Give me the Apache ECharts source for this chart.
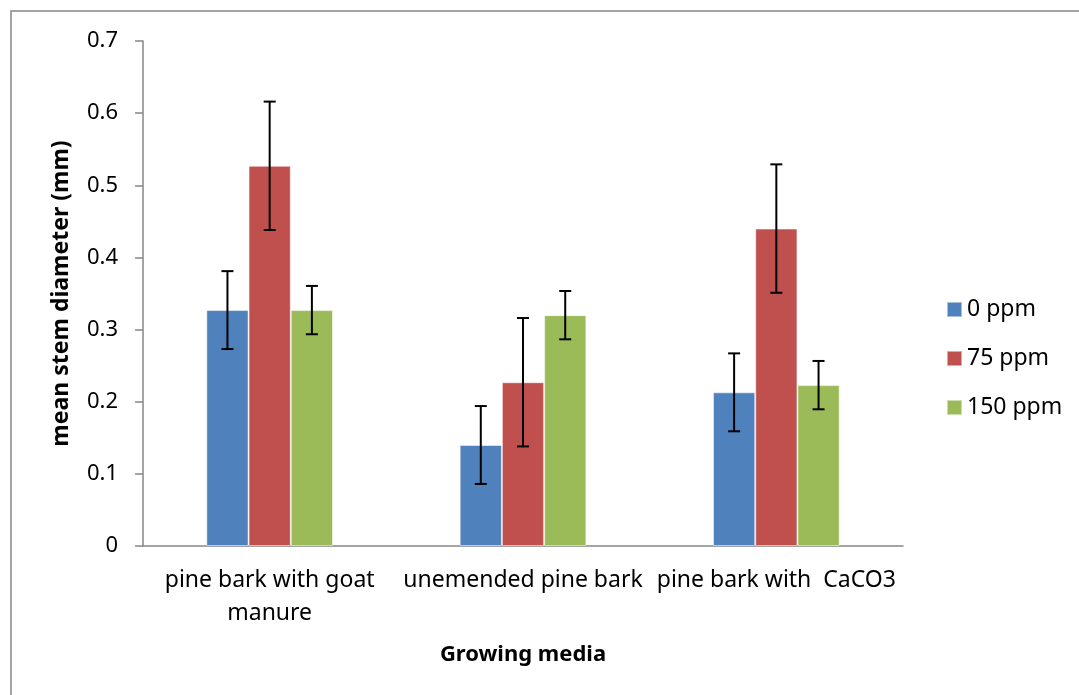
<!DOCTYPE html>
<html>
<head>
<meta charset="utf-8">
<script src="https://cdn.jsdelivr.net/npm/echarts@6/dist/echarts.min.js"></script>
<style>
  html, body { margin: 0; padding: 0; background: #fff; }
  #chart { width: 1079px; height: 695px; }
</style>
</head>
<body>
<div id="chart"></div>
<script>
var categories = ['pine bark with goat\nmanure', 'unemended pine bark', 'pine bark with  CaCO3'];
var seriesNames = ['0 ppm', '75 ppm', '150 ppm'];
var values0 = [0.327, 0.140, 0.213];
var values75 = [0.527, 0.227, 0.440];
var values150 = [0.327, 0.320, 0.223];
var err0 = [0.054, 0.054, 0.054];
var err75 = [0.089, 0.089, 0.089];
var err150 = [0.0335, 0.0335, 0.0335];
var yTicks = { min: 0, max: 0.7, interval: 0.1 };

var colors = ['#4F81BD', '#C0504D', '#9BBB59'];
var allValues = [values0, values75, values150];
var allErr = [err0, err75, err150];

var FONT = '"Noto Sans", "Open Sans", sans-serif';
var chart = echarts.init(document.getElementById('chart'), null, { renderer: 'canvas' });

function errorSeries(idx) {
  var data = allValues[idx].map(function (v, i) { return [i, v, allErr[idx][i]]; });
  return {
    type: 'custom',
    name: seriesNames[idx] + ' err',
    z: 10,
    silent: true,
    encode: { x: 0, y: 1 },
    data: data,
    renderItem: function (params, api) {
      var cat = api.value(0), v = api.value(1), e = api.value(2);
      var center = api.coord([cat, v]);
      var catW = api.size([1, 0])[0];
      var barW = catW * 0.5 / 3;
      var x = center[0] + (idx - 1) * barW;
      var top = api.coord([cat, v + e])[1];
      var bot = api.coord([cat, v - e])[1];
      var cap = 6;
      var style = { stroke: '#000', lineWidth: 2 };
      return {
        type: 'group',
        children: [
          { type: 'line', shape: { x1: x, y1: top, x2: x, y2: bot }, style: style },
          { type: 'line', shape: { x1: x - cap, y1: top, x2: x + cap, y2: top }, style: style },
          { type: 'line', shape: { x1: x - cap, y1: bot, x2: x + cap, y2: bot }, style: style }
        ]
      };
    }
  };
}

var barSeries = seriesNames.map(function (n, idx) {
  return {
    type: 'bar',
    name: n,
    data: allValues[idx],
    barGap: '0%',
    barCategoryGap: '50%',
    itemStyle: { color: colors[idx], borderColor: 'rgba(255,255,255,0.5)', borderWidth: 1 }
  };
});

var option = {
  backgroundColor: '#fff',
  animation: false,
  graphic: [{
    type: 'rect',
    shape: { x: 11, y: 11, width: 1200, height: 800 },
    style: { fill: 'none', stroke: '#868686', lineWidth: 1.5 },
    silent: true,
    z: -10
  }],
  grid: { left: 143, right: 176, top: 41, bottom: 149 },
  legend: {
    data: seriesNames,
    orient: 'vertical',
    left: 941,
    top: 293,
    itemWidth: 15,
    itemHeight: 15,
    itemGap: 26,
    icon: 'rect',
    textStyle: { fontFamily: FONT, fontSize: 23, color: '#000', lineHeight: 22 }
  },
  xAxis: {
    type: 'category',
    data: categories,
    name: 'Growing media',
    nameLocation: 'middle',
    nameGap: 98,
    nameTextStyle: { fontFamily: FONT, fontSize: 22, fontWeight: 'bold', color: '#000' },
    axisLine: { lineStyle: { color: '#868686', width: 1.5 } },
    axisTick: { show: false },
    axisLabel: { fontFamily: FONT, fontSize: 23, color: '#000', margin: 18, lineHeight: 33, interval: 0 }
  },
  yAxis: {
    type: 'value',
    min: yTicks.min,
    max: yTicks.max,
    interval: yTicks.interval,
    name: 'mean stem diameter (mm)',
    nameLocation: 'middle',
    nameGap: 70,
    nameTextStyle: { fontFamily: FONT, fontSize: 23, fontWeight: 'bold', color: '#000' },
    axisLine: { show: true, lineStyle: { color: '#868686', width: 1.5 } },
    axisTick: { show: true, length: 8, lineStyle: { color: '#868686', width: 1.5 } },
    splitLine: { show: false },
    axisLabel: {
      fontFamily: FONT, fontSize: 22, color: '#000', margin: 25,
      formatter: function (v) { return v === 0 ? '0' : v.toFixed(1); }
    }
  },
  series: barSeries.concat([errorSeries(0), errorSeries(1), errorSeries(2)])
};
chart.setOption(option);
</script>
</body>
</html>
